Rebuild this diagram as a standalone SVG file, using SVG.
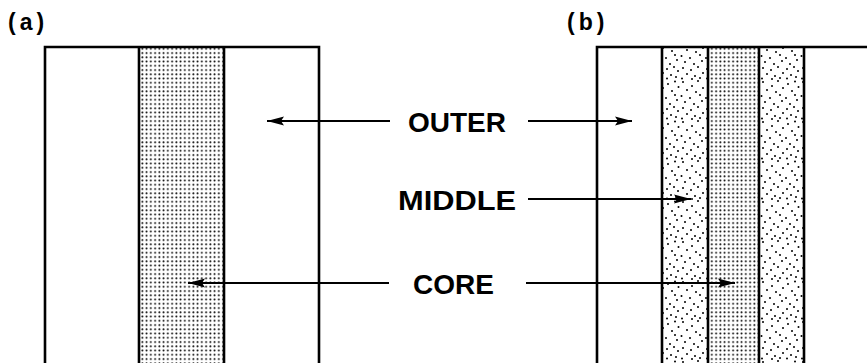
<svg xmlns="http://www.w3.org/2000/svg" width="867" height="363" viewBox="0 0 867 363">
<style>
.edge{stroke:#000;stroke-width:2.6;fill:none}
.arrow{stroke:#000;stroke-width:1.8;fill:none;marker-end:url(#head)}
.lbl{font-family:"Liberation Sans",Arial,sans-serif;font-weight:bold;font-size:28px;fill:#000}
.tag{font-family:"Liberation Sans",Arial,sans-serif;font-weight:bold;font-size:23px;fill:#000;letter-spacing:4px}
</style>
<defs>
<pattern id="grid" width="4.25" height="4.25" patternUnits="userSpaceOnUse">
<circle cx="2.1" cy="2.1" r="0.95" fill="#000"/>
</pattern>
<pattern id="stip" width="40" height="40" patternUnits="userSpaceOnUse">
<g fill="#000">
<circle cx="3" cy="2" r="1"/><circle cx="12" cy="6" r="1"/><circle cx="18" cy="1" r="1"/><circle cx="28" cy="4" r="1"/><circle cx="35" cy="1.5" r="1"/>
<circle cx="7" cy="10" r="1"/><circle cx="16" cy="12" r="1"/><circle cx="23" cy="8" r="1"/><circle cx="32" cy="11" r="1"/><circle cx="38.5" cy="7" r="1"/>
<circle cx="1.5" cy="16" r="1"/><circle cx="10" cy="18" r="1"/><circle cx="20" cy="15" r="1"/><circle cx="26" cy="18" r="1"/><circle cx="35" cy="15" r="1"/>
<circle cx="5" cy="22" r="1"/><circle cx="14" cy="24" r="1"/><circle cx="22" cy="21" r="1"/><circle cx="30" cy="24" r="1"/><circle cx="37" cy="20" r="1"/>
<circle cx="3" cy="28" r="1"/><circle cx="11" cy="30" r="1"/><circle cx="18" cy="27" r="1"/><circle cx="27" cy="29" r="1"/><circle cx="34" cy="27" r="1"/>
<circle cx="7" cy="34" r="1"/><circle cx="15" cy="36" r="1"/><circle cx="23" cy="33" r="1"/><circle cx="31" cy="35" r="1"/><circle cx="38" cy="31" r="1"/>
<circle cx="2" cy="38.5" r="1"/><circle cx="12" cy="39" r="1"/><circle cx="20" cy="38" r="1"/><circle cx="27" cy="38.5" r="1"/><circle cx="36" cy="37" r="1"/>
</g>
</pattern>
<marker id="head" markerUnits="userSpaceOnUse" markerWidth="18" markerHeight="12" refX="17" refY="6" orient="auto">
<path d="M0,1.5 L17,6 L0,10.5 L3,6 z" fill="#000"/>
</marker>
</defs>

<g id="label-a"><text class="tag" x="8" y="30">(a)</text></g>
<g id="label-b"><text class="tag" x="567" y="30">(b)</text></g>

<g id="a-core">
<rect x="139" y="47" width="85" height="316" fill="url(#grid)"/>
<path class="edge" d="M139,47 V363 M224,47 V363"/>
</g>
<g id="a-outer">
<path class="edge" d="M45,363 V47 H319 V363"/>
</g>

<g id="b-middle">
<rect x="662" y="47" width="46" height="316" fill="url(#stip)"/>
<rect x="759" y="47" width="45" height="316" fill="url(#stip)"/>
<path class="edge" d="M662,47 V363 M804,47 V363"/>
</g>
<g id="b-core">
<rect x="708" y="47" width="51" height="316" fill="url(#grid)"/>
<path class="edge" d="M708,47 V363 M759,47 V363"/>
</g>
<g id="b-outer">
<path class="edge" d="M597,363 V47 H867"/>
</g>

<g id="text-outer"><text class="lbl" x="408" y="132">OUTER</text></g>
<g id="text-middle"><text class="lbl" x="398" y="210" textLength="118" lengthAdjust="spacingAndGlyphs">MIDDLE</text></g>
<g id="text-core"><text class="lbl" x="413" y="294">CORE</text></g>

<g id="connectors">
<line class="arrow" x1="390" y1="121" x2="267" y2="121"/>
<line class="arrow" x1="528" y1="121" x2="632" y2="121"/>
<line class="arrow" x1="528" y1="199" x2="691" y2="199"/>
<line class="arrow" x1="389" y1="283" x2="188" y2="283"/>
<line class="arrow" x1="526" y1="283" x2="735" y2="283"/>
</g>
</svg>
